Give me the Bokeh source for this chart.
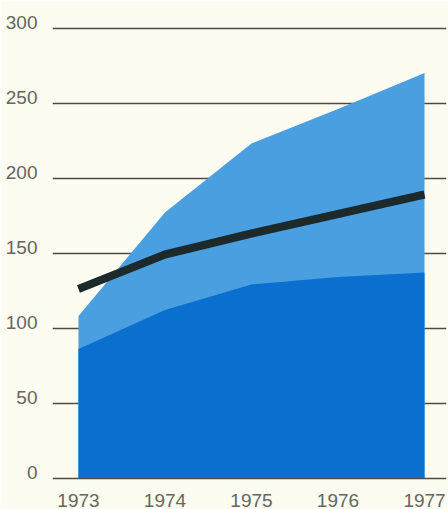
from bokeh.plotting import figure
from bokeh.models import Range1d, LinearAxis, FixedTicker
from bokeh.embed import file_html
from bokeh.resources import INLINE

years = [1973, 1974, 1975, 1976, 1977]
total = [108, 177, 223, 246, 270]
lower = [86, 112, 129, 134, 137]
line_vals = [126, 149, 163, 176, 189]
y_ticks = [0, 50, 100, 150, 200, 250, 300]

BG = "#fcfcf0"
LABEL = "#66665e"
GRID = "#4f4a4a"

p = figure(width=448, height=509, output_backend="svg", toolbar_location=None,
           x_range=Range1d(1972.70, 1977.254), y_range=Range1d(-3, 305),
           min_border_left=52, min_border_right=2, min_border_top=20, min_border_bottom=23,
           background_fill_color=BG, border_fill_color=BG, outline_line_color=None)
p.xaxis.visible = False
p.yaxis.visible = False
p.xgrid.visible = False
p.ygrid.ticker = FixedTicker(ticks=y_ticks)
p.ygrid.grid_line_color = GRID
p.ygrid.grid_line_width = 1.4

p.extra_y_ranges = {"lab": Range1d(-7, 301)}
yax = LinearAxis(y_range_name="lab", ticker=FixedTicker(ticks=y_ticks))
yax.axis_line_color = None
yax.major_tick_line_color = None
yax.minor_tick_line_color = None
yax.major_label_standoff = 9
yax.major_label_text_font = "Liberation Sans"
yax.major_label_text_font_size = "19px"
yax.major_label_text_color = LABEL
p.add_layout(yax, "left")

xax = LinearAxis(ticker=FixedTicker(ticks=years))
xax.axis_line_color = None
xax.major_tick_line_color = None
xax.minor_tick_line_color = None
xax.major_label_standoff = 5
xax.major_label_text_font = "Liberation Sans"
xax.major_label_text_font_size = "19px"
xax.major_label_text_color = LABEL
p.add_layout(xax, "below")

p.varea(x=years, y1=[0] * len(years), y2=total, fill_color="#4a9fe0")
p.varea(x=years, y1=[0] * len(years), y2=lower, fill_color="#0b6fd0")
p.line(x=years, y=line_vals, line_color="#1d2a2c", line_width=8, line_cap="butt")

open("out.html", "w").write(file_html(p, INLINE))
